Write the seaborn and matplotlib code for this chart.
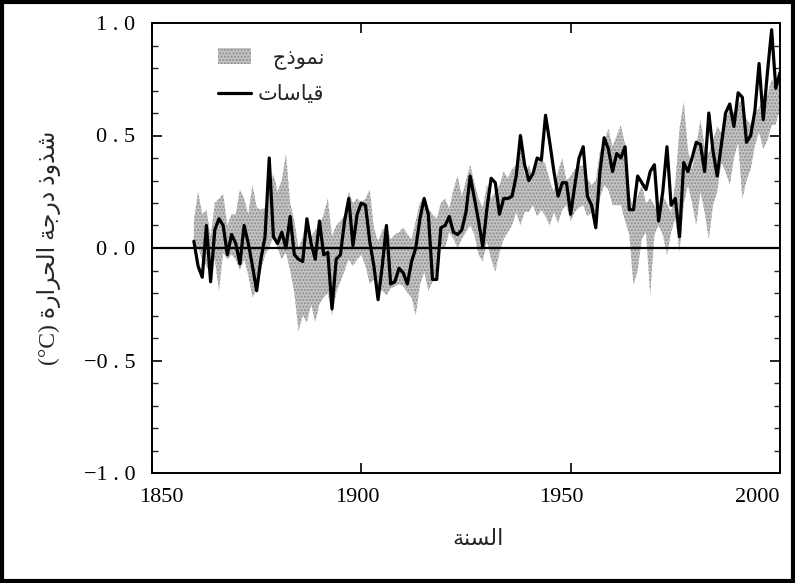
import numpy as np
import pandas as pd
import matplotlib
matplotlib.use("Agg")
import matplotlib.pyplot as plt
import seaborn as sns
from matplotlib.patches import Patch, Rectangle
from matplotlib.lines import Line2D
from matplotlib.ticker import MultipleLocator
from matplotlib.transforms import ScaledTranslation

# Years of the record
years = np.arange(1860, 2001)

obs = [0.03, -0.08, -0.13, 0.10, -0.15, 0.08, 0.13, 0.10, -0.03, 0.06,
       0.02, -0.07, 0.10, 0.02, -0.08, -0.19, -0.05, 0.05, 0.40, 0.05,
       0.02, 0.07, 0.00, 0.14, -0.03, -0.05, -0.06, 0.13, 0.02, -0.05,
       0.12, -0.03, -0.02, -0.27, -0.05, -0.03, 0.12, 0.22, 0.01, 0.15,
       0.20, 0.19, 0.03, -0.08, -0.23, -0.08, 0.10, -0.16, -0.15, -0.09,
       -0.11, -0.16, -0.06, 0.00, 0.13, 0.22, 0.15, -0.14, -0.14, 0.09,
       0.10, 0.14, 0.07, 0.06, 0.08, 0.16, 0.32, 0.22, 0.12, 0.005,
       0.175, 0.31, 0.29, 0.15, 0.22, 0.22, 0.23, 0.32, 0.50, 0.37,
       0.30, 0.33, 0.40, 0.39, 0.59, 0.47, 0.34, 0.23, 0.29, 0.29,
       0.15, 0.28, 0.40, 0.45, 0.23, 0.19, 0.09, 0.34, 0.49, 0.44,
       0.34, 0.42, 0.40, 0.45, 0.17, 0.17, 0.32, 0.29, 0.26, 0.34,
       0.37, 0.12, 0.25, 0.45, 0.19, 0.22, 0.05, 0.38, 0.34, 0.40,
       0.47, 0.46, 0.34, 0.60, 0.43, 0.32, 0.46, 0.60, 0.64, 0.54,
       0.69, 0.67, 0.47, 0.50, 0.61, 0.82, 0.57, 0.78, 0.97, 0.71,
       0.78]

# Model ensemble range (grey band), upper and lower edges
model_hi = [0.12, 0.25, 0.15, 0.17, 0.05, 0.20, 0.22, 0.24, 0.10, 0.15,
            0.15, 0.26, 0.22, 0.15, 0.28, 0.18, 0.17, 0.18, 0.27, 0.33,
            0.25, 0.30, 0.42, 0.20, 0.12, 0.00, 0.05, 0.12, 0.05, 0.08,
            0.10, 0.15, 0.22, 0.05, 0.10, 0.12, 0.15, 0.25, 0.20, 0.22,
            0.20, 0.22, 0.26, 0.09, 0.03, 0.08, 0.10, 0.04, 0.06, 0.07,
            0.09, 0.06, 0.04, 0.12, 0.20, 0.23, 0.175, 0.15, 0.13, 0.20,
            0.22, 0.175, 0.26, 0.32, 0.23, 0.30, 0.37, 0.29, 0.22, 0.18,
            0.28, 0.22, 0.25, 0.28, 0.34, 0.31, 0.35, 0.37, 0.51, 0.32,
            0.37, 0.31, 0.37, 0.40, 0.37, 0.30, 0.25, 0.34, 0.40, 0.30,
            0.32, 0.35, 0.36, 0.37, 0.31, 0.28, 0.30, 0.43, 0.47, 0.53,
            0.45, 0.50, 0.545, 0.46, 0.25, 0.16, 0.23, 0.28, 0.20, 0.22,
            0.19, 0.16, 0.23, 0.20, 0.16, 0.29, 0.53, 0.65, 0.44, 0.35,
            0.45, 0.57, 0.45, 0.42, 0.48, 0.54, 0.51, 0.57, 0.62, 0.60,
            0.64, 0.66, 0.57, 0.55, 0.60, 0.62, 0.68, 0.68, 0.75, 0.72,
            0.80]
model_lo = [-0.02, 0.00, -0.05, -0.08, -0.12, -0.05, -0.19, -0.02, -0.05, -0.03,
            -0.05, -0.10, -0.05, -0.12, -0.22, -0.18, -0.10, -0.03, 0.00, 0.05,
            0.00, -0.05, -0.02, -0.10, -0.20, -0.37, -0.30, -0.33, -0.25, -0.33,
            -0.25, -0.22, -0.20, -0.30, -0.20, -0.15, -0.10, -0.05, -0.08, -0.05,
            -0.03, -0.08, -0.16, -0.14, -0.17, -0.19, -0.21, -0.18, -0.17, -0.16,
            -0.17, -0.20, -0.22, -0.30, -0.165, -0.105, -0.19, -0.15, -0.105, 0.01,
            0.00, 0.07, 0.04, 0.00, 0.04, 0.07, 0.10, 0.06, -0.03, -0.06,
            0.03, -0.05, -0.105, -0.02, 0.04, 0.07, 0.10, 0.16, 0.10, 0.16,
            0.16, 0.19, 0.14, 0.17, 0.14, 0.10, 0.16, 0.11, 0.17, 0.19,
            0.12, 0.16, 0.18, 0.19, 0.14, 0.16, 0.10, 0.22, 0.28, 0.26,
            0.19, 0.19, 0.19, 0.12, 0.06, -0.165, -0.10, 0.04, 0.07, -0.21,
            0.06, 0.10, 0.06, -0.03, 0.07, 0.13, -0.02, 0.19, 0.28, 0.20,
            0.10, 0.25, 0.16, 0.04, 0.19, 0.25, 0.38, 0.34, 0.28, 0.40,
            0.47, 0.22, 0.30, 0.35, 0.455, 0.515, 0.44, 0.48, 0.545, 0.55,
            0.63]

x_ticks = [1850, 1900, 1950, 2000]
x_ticklabels = ["1850", "1900", "1950", "2000"]
y_ticks = [-1.0, -0.5, 0.0, 0.5, 1.0]
y_ticklabels = ["\u22121 . 0", "\u22120 . 5", "0 . 0", "0 . 5", "1 . 0"]

# Arabic text, pre-shaped (presentation forms, visual order)
lbl_model = "   \uFE9D\uFEAB\uFEEE\uFEE4\uFEE7"               # نموذج
lbl_obs = "\uFE95\uFE8E\uFEB3\uFE8E\uFEF4\uFED7"              # قياسات
lbl_year = "\uFE94\uFEE8\uFEB4\uFEDF\uFE8D"                   # السنة
lbl_temp = ("(\u00B0C) " + "\uFE93\uFEAD\uFE8D\uFEAE\uFEA4\uFEDF\uFE8D" + " "
            + "\uFE94\uFE9F\uFEAD\uFEA9" + " " + "\uFEAB\uFEED\uFEAC\uFEB7")  # شذوذ درجة الحرارة (°C)

df = pd.DataFrame({"year": years, "obs": obs, "hi": model_hi, "lo": model_lo})

sns.set_style("ticks")
plt.rcParams["font.family"] = ["Liberation Serif", "DejaVu Sans"]

fig = plt.figure(figsize=(7.95, 5.83), dpi=100)
ax = fig.add_axes([152 / 795, 110 / 583, 628 / 795, 450 / 583])

band_color = "#c4c4c4"
ax.fill_between(df["year"], df["lo"], df["hi"], facecolor=band_color,
                edgecolor="#8c8c8c", hatch=".....", linewidth=0, zorder=1)
ax.axhline(0, color="black", lw=1.6, zorder=2)
sns.lineplot(data=df, x="year", y="obs", color="black", lw=2.3, ax=ax, zorder=3)

ax.set_xlim(1850, 2000)
ax.set_ylim(-1.0, 1.0)
ax.set_xticks(x_ticks)
ax.set_xticklabels(x_ticklabels, fontsize=16, family="Liberation Serif")
ax.set_yticks(y_ticks)
ax.set_yticklabels(y_ticklabels, fontsize=16, family="Liberation Serif")
ax.yaxis.set_minor_locator(MultipleLocator(0.1))
ax.tick_params(axis="both", which="major", direction="in", length=7, width=1.2,
               top=True, right=True, colors="black")
ax.tick_params(axis="y", which="minor", direction="in", length=4, width=1.0,
               left=True, right=True)
ax.tick_params(axis="y", which="major", pad=12)
ax.tick_params(axis="x", which="major", pad=11)
for s in ax.spines.values():
    s.set_linewidth(1.4)
    s.set_color("black")

# the reprinted year labels sit a little off their tick marks
x_label_shift = [9, -4, -9, -23]
for lab, dx in zip(ax.get_xticklabels(), x_label_shift):
    lab.set_transform(lab.get_transform() + ScaledTranslation(dx / 100, 0, fig.dpi_scale_trans))

ax.set_xlabel(lbl_year, fontsize=16, family="DejaVu Sans", labelpad=16)
ax.xaxis.set_label_coords(0.5 + 12 / 628, -0.125)
ax.set_ylabel(lbl_temp, fontsize=17, labelpad=16)

handles = [Patch(facecolor=band_color, edgecolor="#8c8c8c", hatch=".....", linewidth=0),
           Line2D([], [], color="black", lw=2.3)]
ax.legend(handles, [lbl_model, lbl_obs], loc="upper left", bbox_to_anchor=(0.075, 0.985),
          frameon=False, fontsize=15, handlelength=1.6, handleheight=0.8,
          handletextpad=0.3, labelspacing=0.75)

fig.patches.append(Rectangle((0.002, 0.003), 0.996, 0.994, transform=fig.transFigure,
                             fill=False, edgecolor="black", linewidth=3))

fig.savefig("out.png", dpi=100, facecolor="white")
